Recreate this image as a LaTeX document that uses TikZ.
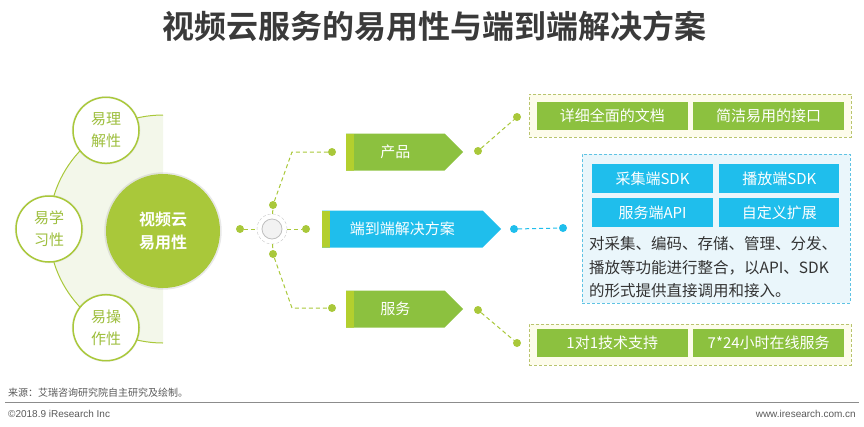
\documentclass[tikz,border=0pt]{standalone}
\usepackage{fontspec}
\setmainfont{Noto Sans CJK SC}[BoldFont={Noto Sans CJK SC Bold}]
\setsansfont{Liberation Sans}
\usetikzlibrary{shapes.symbols,shadows,positioning,calc}
\definecolor{leaf}{HTML}{8CC13F}
\definecolor{lime}{HTML}{A9C83A}
\definecolor{limetext}{HTML}{9DBE3C}
\definecolor{stripe}{HTML}{B3CF2E}
\definecolor{pale}{HTML}{F3F7EA}
\definecolor{sky}{HTML}{1FBEEC}
\definecolor{skyline}{HTML}{5FC3E4}
\definecolor{skypale}{HTML}{EAF6FB}
\definecolor{cream}{HTML}{FDFCEB}
\definecolor{olive}{HTML}{B9C46E}
\definecolor{titlegray}{HTML}{3A3A3A}
\definecolor{footgray}{HTML}{595959}
\tikzset{
  dot/.style={circle,fill=lime,inner sep=0pt,minimum size=8pt},
  link/.style={lime,dash pattern=on 4pt off 3pt,line width=1pt},
  sat/.style={circle,draw=lime,line width=1.5pt,fill=white,minimum size=66pt,inner sep=0pt,
    text=limetext,font=\fontsize{15}{22}\selectfont,align=center,
    drop shadow={opacity=.12,shadow xshift=0pt,shadow yshift=0pt,shadow scale=1.04}},
  tag/.style={signal,signal to=east,signal pointer angle=90,fill=leaf,text=white,
    minimum height=37pt,inner sep=0pt,font=\fontsize{15}{18}\selectfont,anchor=west,
    path picture={\fill[stripe] (path picture bounding box.north west) rectangle
      ([xshift=8pt]path picture bounding box.south west);}},
  cell/.style={fill=leaf,text=white,minimum height=28pt,minimum width=151pt,inner sep=0pt,
    font=\fontsize{15}{18}\selectfont},
  bluecell/.style={cell,fill=sky,minimum height=29pt},
  frame/.style={dash pattern=on 3pt off 2pt,line width=.8pt},
}
\begin{document}
\begin{tikzpicture}[x=1pt,y=-1pt]
\useasboundingbox (0,0) rectangle (864,426);
% title
\node[text=titlegray,font=\fontsize{32}{36}\selectfont\bfseries] (title) at (434,26) {视频云服务的易用性与端到端解决方案};

% left: usability
\fill[pale] (163,115) arc[start angle=-90,end angle=-270,radius=114] -- cycle;
\draw[lime,line width=1pt] (163,115) arc[start angle=-90,end angle=-270,radius=114];
\foreach \a/\t/\n in {240/易理\\解性/sa, 180/易学\\习性/sb, 120/易操\\作性/sc}
  \node[sat] (\n) at ($(163,229)+(\a:114)$) {\t};
\node[circle,fill=lime,minimum size=114pt,inner sep=0pt,text=white,align=center,
  font=\fontsize{16}{23}\selectfont\bfseries,
  drop shadow={opacity=.18,shadow xshift=0pt,shadow yshift=0pt,shadow scale=1.03}] (core) at (163,231) {视频云\\易用性};

% hub
\node[circle,draw=black!22,dash pattern=on 3pt off 2pt,minimum size=30pt,inner sep=0pt] (hub) at (272,229) {};
\fill[black!5,draw=black!25,line width=.8pt] (hub.center) circle[radius=10];
\node[dot] (dl) at (240,229) {};
\node[dot] (dr) at (306,229) {};
\node[dot] (dt) at (273,205) {};
\node[dot] (db) at (273,254) {};
\draw[link] (dl) -- (hub);
\draw[link] (hub) -- (dr);
\draw[link] (hub) -- (dt);
\draw[link] (hub) -- (db);
\node[dot] (dp) at (332,152) {};
\node[dot] (ds) at (332,308) {};
\coordinate (kp) at (292,152);
\coordinate (ks) at (292,308);
\draw[link] (dt) -- (kp) -- (dp);
\draw[link] (db) -- (ks) -- (ds);

% middle tags
\node[tag,minimum width=117pt] (prod) at (346,152) {产品};
\node[tag,fill=sky,minimum width=179pt] (e2e) at (322,229) {端到端解决方案};
\node[tag,minimum width=117pt] (serv) at (346,309) {服务};

\node[dot] (pa) at (478,151) {};
\node[dot] (pb) at (517,117) {};
\node[dot] (sa) at (478,310) {};
\node[dot] (sb) at (517,343) {};
\node[dot,fill=sky] (ea) at (514,229) {};
\node[dot,fill=sky] (eb) at (563,228) {};
\draw[link] (pa) -- (pb);
\draw[link] (sa) -- (sb);
\draw[link,sky] (ea) -- (eb);

% right: product
\node[frame,draw=olive,fill=cream,minimum width=322pt,minimum height=43pt,inner sep=0pt] (docs) at (690,115.5) {};
\node[cell,anchor=west] (doc1) at ([xshift=8pt]docs.west) {详细全面的文档};
\node[cell,right=5pt of doc1] (doc2) {简洁易用的接口};

% right: end to end
\node[frame,draw=skyline,fill=skypale,minimum width=268pt,minimum height=149pt,inner sep=0pt] (kit) at (716,228.5) {};
\node[bluecell,minimum width=121pt] (k1) at (652.5,178.5) {采集端SDK};
\node[bluecell,minimum width=120pt,right=6pt of k1] (k2) {播放端SDK};
\node[bluecell,minimum width=121pt,below=5pt of k1] (k3) {服务端API};
\node[bluecell,minimum width=120pt,right=6pt of k3] (k4) {自定义扩展};
\node[anchor=north west,align=left,inner sep=0pt,text=black!80,font=\fontsize{15.5}{23.5}\selectfont] (kitnote) at (589,236.5)
  {对采集、编码、存储、管理、分发、\\播放等功能进行整合，以API、SDK\\的形式提供直接调用和接入。};

% right: service
\node[frame,draw=olive,fill=cream,minimum width=322pt,minimum height=41pt,inner sep=0pt] (help) at (690,344.5) {};
\node[cell,anchor=west] (help1) at ([xshift=8pt,yshift=1.5pt]help.west) {1对1技术支持};
\node[cell,right=5pt of help1] (help2) {7*24小时在线服务};

% footer
\node[anchor=west,inner sep=0pt,text=footgray,font=\fontsize{10}{12}\selectfont] (src) at (8,393) {来源：艾瑞咨询研究院自主研究及绘制。};
\draw[black!45,line width=.8pt] (5,402) -- (859,402);
\node[anchor=west,inner sep=0pt,text=footgray,font=\sffamily\fontsize{10}{12}\selectfont] (copy) at (8,414) {©2018.9 iResearch Inc};
\node[anchor=east,inner sep=0pt,text=footgray,font=\sffamily\fontsize{10}{12}\selectfont] (web) at (856,414) {www.iresearch.com.cn};
\end{tikzpicture}
\end{document}
